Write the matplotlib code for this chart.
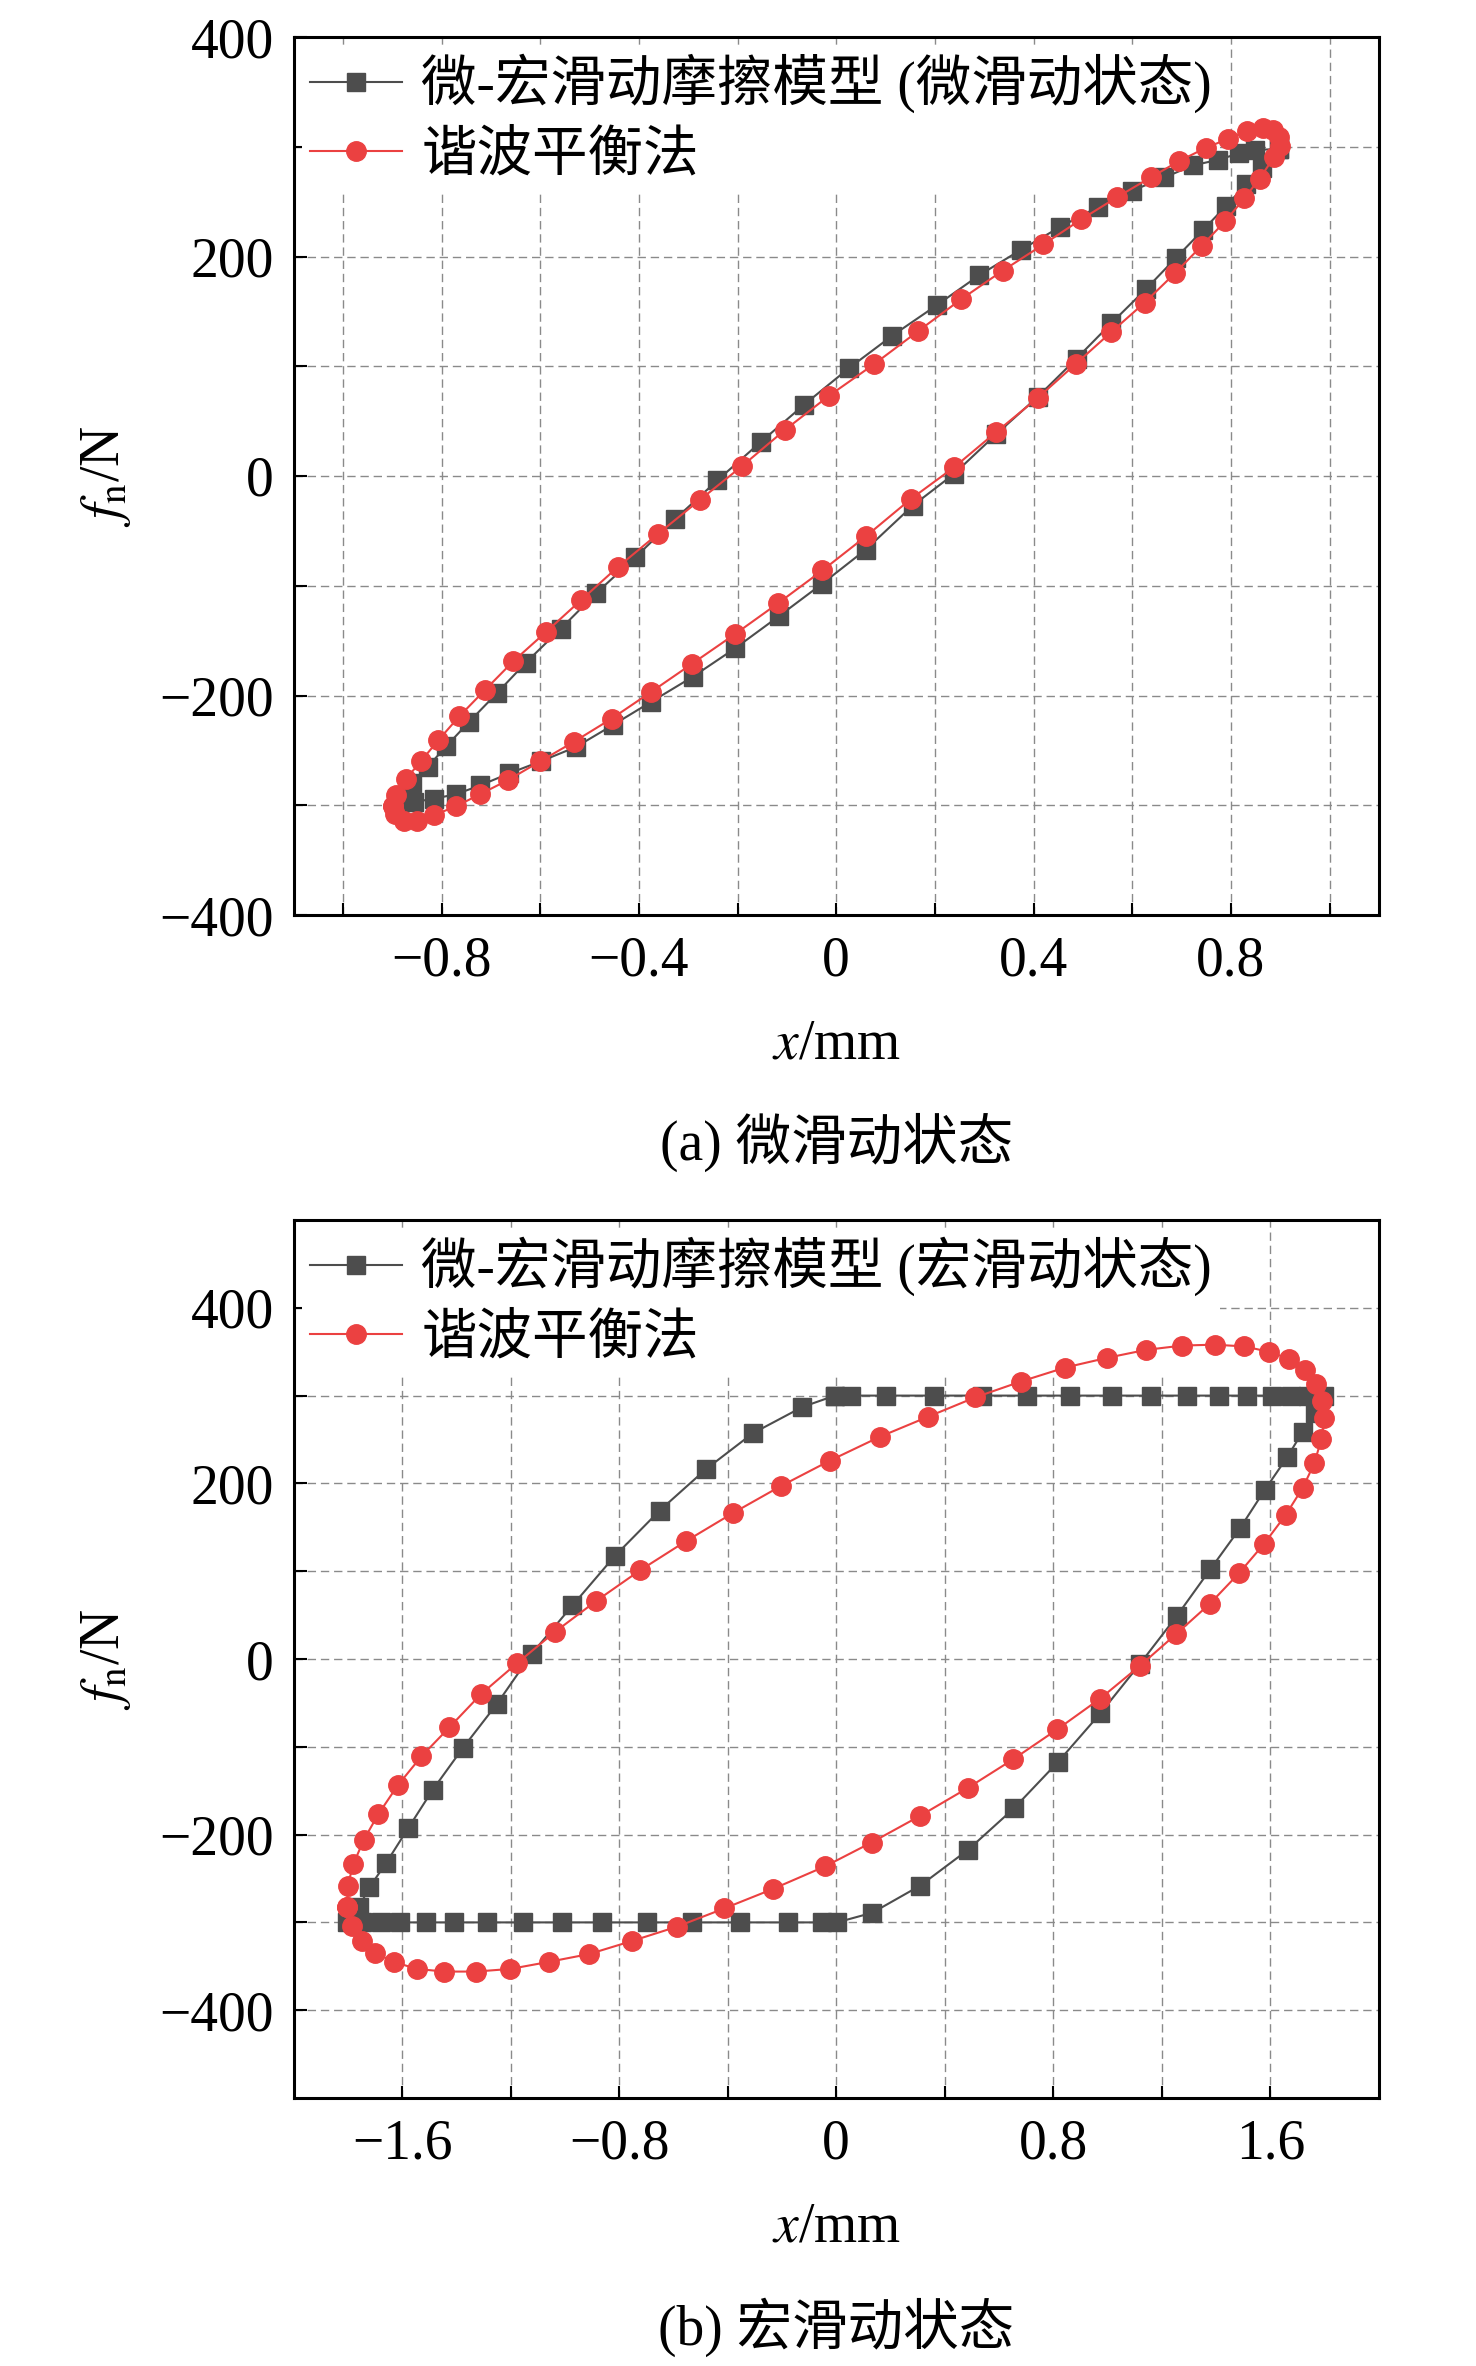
import matplotlib
matplotlib.use("Agg")
import matplotlib.pyplot as plt
from matplotlib.ticker import FixedLocator, FixedFormatter

plt.rcParams['font.family'] = ['Liberation Serif', 'Noto Sans CJK SC']
plt.rcParams['mathtext.fontset'] = 'stix'
plt.rcParams['axes.unicode_minus'] = True

# ---------------- data: (a) micro-slip ----------------
micro_model_x = [0.898, 0.862, 0.831, 0.790, 0.743, 0.689, 0.627, 0.557, 0.487, 0.408,
                 0.324, 0.239, 0.155, 0.060, -0.028, -0.117, -0.205, -0.291, -0.376, -0.453,
                 -0.528, -0.599, -0.663, -0.722, -0.771, -0.815, -0.855, -0.886, -0.859, -0.828,
                 -0.790, -0.744, -0.688, -0.629, -0.558, -0.487, -0.407, -0.326, -0.241, -0.153,
                 -0.065, 0.025, 0.114, 0.205, 0.290, 0.374, 0.454, 0.530, 0.600, 0.665,
                 0.723, 0.773, 0.817, 0.848, 0.898]
micro_model_f = [298, 281, 266, 246, 224, 199, 170, 139, 107, 72,
                 38, 2, -27, -67, -98, -128, -157, -183, -206, -227,
                 -247, -260, -271, -282, -290, -294, -297, -300, -280, -265,
                 -246, -224, -198, -170, -139, -107, -74, -39, -4, 31,
                 65, 98, 128, 156, 183, 206, 227, 245, 260, 272,
                 283, 288, 294, 297, 298]

micro_hbm_x = [-0.899, -0.893, -0.872, -0.842, -0.807, -0.764, -0.712, -0.655, -0.588, -0.517,
               -0.443, -0.362, -0.277, -0.191, -0.104, -0.015, 0.077, 0.166, 0.253, 0.337,
               0.420, 0.497, 0.569, 0.637, 0.695, 0.749, 0.793, 0.832, 0.864, 0.886,
               0.897, 0.899, 0.888, 0.858, 0.827, 0.788, 0.741, 0.687, 0.625, 0.557,
               0.485, 0.408, 0.324, 0.239, 0.151, 0.060, -0.028, -0.118, -0.205, -0.292,
               -0.376, -0.455, -0.531, -0.600, -0.665, -0.722, -0.771, -0.815, -0.849, -0.876,
               -0.895, -0.899]
micro_hbm_f = [-301, -291, -276, -260, -241, -219, -195, -169, -142, -113,
               -83, -53, -22, 9, 42, 73, 102, 132, 161, 187,
               211, 234, 254, 272, 287, 299, 307, 314, 317, 315,
               309, 301, 291, 271, 253, 232, 210, 185, 158, 131,
               102, 71, 40, 8, -21, -55, -86, -116, -144, -171,
               -197, -221, -242, -260, -277, -290, -301, -309, -314, -314,
               -308, -301]

# ---------------- data: (b) macro-slip ----------------
macro_model_x = [-0.005, 0.055, 0.185, 0.362, 0.536, 0.703, 0.862, 1.015, 1.161, 1.292,
                 1.409, 1.514, 1.604, 1.676, 1.740, 1.798, 1.763, 1.719, 1.662, 1.580,
                 1.488, 1.378, 1.255, 1.118, 0.973, 0.818, 0.655, 0.487, 0.310, 0.133,
                 0.003, -0.054, -0.178, -0.355, -0.530, -0.697, -0.862, -1.012, -1.155, -1.287,
                 -1.408, -1.512, -1.606, -1.677, -1.749, -1.802, -1.760, -1.720, -1.658, -1.578,
                 -1.487, -1.375, -1.250, -1.122, -0.972, -0.817, -0.651, -0.481, -0.308, -0.125,
                 -0.005]
macro_model_f = [300, 300, 300, 300, 300, 300, 300, 300, 300, 300,
                 300, 300, 300, 300, 300, 300, 280, 259, 230, 193,
                 149, 102, 49, -6, -62, -117, -170, -217, -258, -289,
                 -300, -300, -300, -300, -300, -300, -300, -300, -300, -300,
                 -300, -300, -300, -300, -300, -300, -283, -260, -232, -193,
                 -149, -101, -51, 6, 61, 117, 169, 216, 257, 287,
                 300]

macro_hbm_x = [-1.802, -1.800, -1.780, -1.741, -1.688, -1.616, -1.529, -1.426, -1.309, -1.177,
               -1.036, -0.885, -0.723, -0.555, -0.382, -0.204, -0.023, 0.160, 0.339, 0.512,
               0.680, 0.844, 0.998, 1.140, 1.275, 1.394, 1.504, 1.593, 1.668, 1.726,
               1.767, 1.789, 1.799, 1.788, 1.762, 1.719, 1.656, 1.576, 1.485, 1.377,
               1.251, 1.118, 0.973, 0.815, 0.653, 0.484, 0.307, 0.130, -0.040, -0.234,
               -0.412, -0.588, -0.751, -0.910, -1.060, -1.201, -1.328, -1.444, -1.545, -1.631,
               -1.698, -1.747, -1.784, -1.802]
macro_hbm_f = [-283, -258, -234, -206, -177, -144, -111, -78, -40, -5,
               31, 66, 101, 134, 166, 197, 226, 253, 276, 298,
               316, 332, 343, 352, 357, 358, 356, 350, 342, 329,
               313, 294, 274, 251, 223, 195, 164, 131, 98, 63,
               28, -8, -45, -80, -114, -147, -179, -209, -236, -262,
               -284, -305, -321, -336, -345, -353, -356, -356, -353, -345,
               -335, -321, -304, -283]

# ticks
a_xmajor = [-0.8, -0.4, 0.0, 0.4, 0.8]
a_xlabels = ['\u22120.8', '\u22120.4', '0', '0.4', '0.8']
a_xminor = [-1.0, -0.6, -0.2, 0.2, 0.6, 1.0]
b_xmajor = [-1.6, -0.8, 0.0, 0.8, 1.6]
b_xlabels = ['\u22121.6', '\u22120.8', '0', '0.8', '1.6']
b_xminor = [-1.2, -0.4, 0.4, 1.2]
y_major = [-400, -200, 0, 200, 400]
y_labels = ['\u2212400', '\u2212200', '0', '200', '400']
y_minor = [-300, -100, 100, 300]

legend_a = ['微-宏滑动摩擦模型 (微滑动状态)', '谐波平衡法']
legend_b = ['微-宏滑动摩擦模型 (宏滑动状态)', '谐波平衡法']
captions = ['(a) 微滑动状态', '(b) 宏滑动状态']

BLACK = '#4d4d4d'
RED = '#eb4141'
FS = 40

fig = plt.figure(figsize=(14.76, 23.66), dpi=100)
W, H = 1476, 2366
left = 293.5 / W
width = 1085.5 / W
hgt = 878 / H
ax_a = fig.add_axes([left, 1 - 915 / H, width, hgt])
ax_b = fig.add_axes([left, 1 - 2098 / H, width, hgt])


def style(ax, xlim, ylim, xmaj, xlab, xmin):
    ax.set_xlim(*xlim)
    ax.set_ylim(*ylim)
    ax.xaxis.set_major_locator(FixedLocator(xmaj))
    ax.xaxis.set_major_formatter(FixedFormatter(xlab))
    ax.xaxis.set_minor_locator(FixedLocator(xmin))
    ax.yaxis.set_major_locator(FixedLocator(y_major))
    ax.yaxis.set_major_formatter(FixedFormatter(y_labels))
    ax.yaxis.set_minor_locator(FixedLocator(y_minor))
    ax.tick_params(which='both', direction='in', length=9, width=1.5, top=False, right=False)
    ax.tick_params(axis='x', which='major', labelsize=FS, pad=15)
    ax.tick_params(axis='y', which='major', labelsize=FS, pad=14)
    ax.grid(True, which='both', color='#8a8a8a', linestyle=(0, (6, 3.5)), linewidth=1.0)
    ax.set_axisbelow(True)
    for s in ax.spines.values():
        s.set_linewidth(2.2)
        s.set_color('black')
        s.set_zorder(6)
    ax.set_xlabel(r'$x$/mm', fontsize=FS)
    ax.set_ylabel(r'$f_{\mathrm{n}}$/N', fontsize=FS)
    ax.xaxis.set_label_coords(0.5, -0.118)
    ax.yaxis.set_label_coords(-0.148, 0.5)


def draw(ax, bx, by, rx, ry, labels):
    l1, = ax.plot(bx, by, color=BLACK, lw=1.5, marker='s', ms=12.5, mec=BLACK, mfc=BLACK, zorder=3)
    l2, = ax.plot(rx, ry, color=RED, lw=1.5, marker='o', ms=14, mec=RED, mfc=RED, zorder=4)
    leg = ax.legend([l1, l2], labels, loc='upper left', bbox_to_anchor=(0, 1),
                    frameon=True, facecolor='white', edgecolor='none', framealpha=1,
                    fancybox=False, borderaxespad=0.15, borderpad=0.15,
                    handlelength=1.65, handletextpad=0.35, labelspacing=0.31,
                    fontsize=FS)
    # legend box hides the grid but stays beneath the data
    leg.set_zorder(2.5)


draw(ax_a, micro_model_x, micro_model_f, micro_hbm_x, micro_hbm_f, legend_a)
style(ax_a, (-1.1, 1.1), (-400, 400), a_xmajor, a_xlabels, a_xminor)
draw(ax_b, macro_model_x, macro_model_f, macro_hbm_x, macro_hbm_f, legend_b)
style(ax_b, (-2.0, 2.0), (-500, 500), b_xmajor, b_xlabels, b_xminor)

cx = (293.5 + 1085.5 / 2) / W
fig.text(cx, 1 - 1142 / H, captions[0], ha='center', va='center', fontsize=FS)
fig.text(cx, 1 - 2327 / H, captions[1], ha='center', va='center', fontsize=FS)

fig.savefig('out.png', dpi=100)
